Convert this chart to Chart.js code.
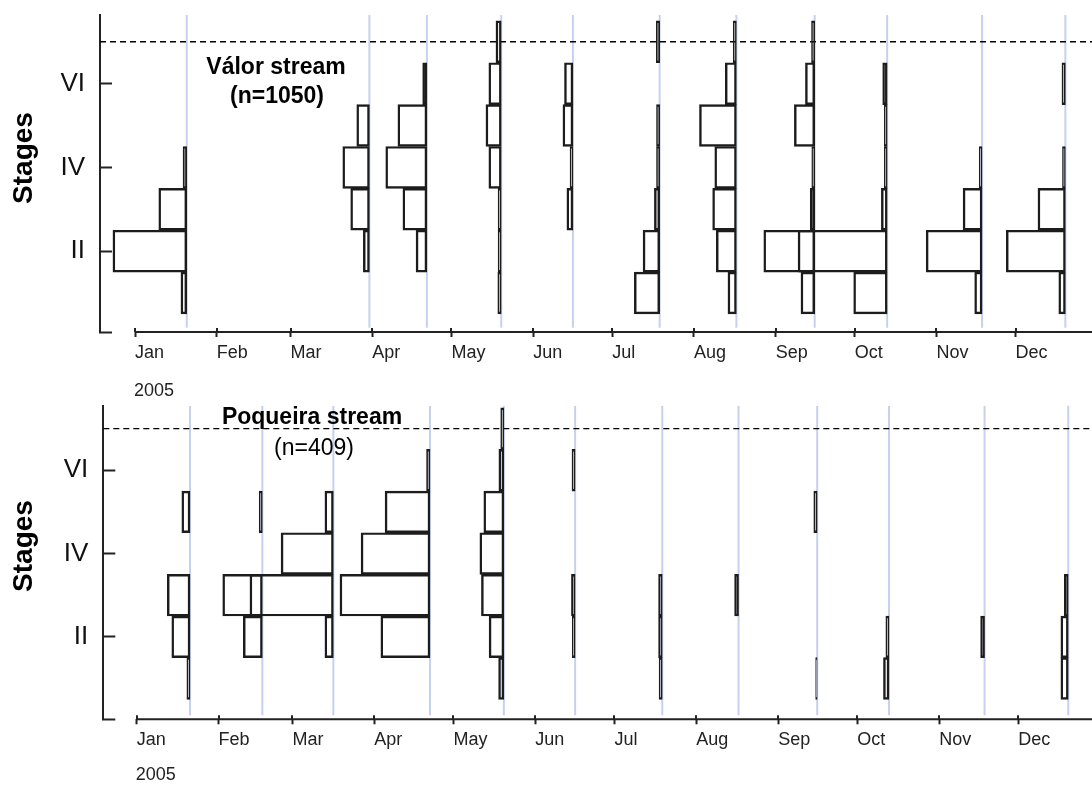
<!DOCTYPE html>
<html>
<head>
<meta charset="utf-8">
<script src="https://cdn.jsdelivr.net/npm/chart.js@4.4.1/dist/chart.umd.min.js"></script>
<style>
  html, body { margin: 0; padding: 0; background: #fff; overflow: hidden; }
  .panel { position: absolute; left: 0; width: 1092px; }
  #top-panel { top: 0; height: 400px; }
  #bottom-panel { top: 400px; height: 385px; }
</style>
</head>
<body>
<div class="panel" id="top-panel"><canvas id="valor-chart"></canvas></div>
<div class="panel" id="bottom-panel"><canvas id="poqueira-chart"></canvas></div>
<script>
// x axis: day of year 2005 (0 = Jan 1)
const months = ['Jan', 'Feb', 'Mar', 'Apr', 'May', 'Jun', 'Jul', 'Aug', 'Sep', 'Oct', 'Nov', 'Dec'];
const monthStarts = [0, 31, 59, 90, 120, 151, 181, 212, 243, 273, 304, 334];
const stageNames = ['I', 'II', 'III', 'IV', 'V', 'VI', 'VII'];
const stageTicks = [2, 4, 6];
const adultStage = 7;

// Valor: sampling days and bar length (days) for stages I..VII
const valorDates = [19.6, 88.9, 110.7, 138.9, 166.1, 199.0, 228.1, 257.8, 285.3, 321.3, 352.9];
const valorBars = [
    [2.2, 28.0, 10.6, 1.4, 0, 0, 0],
    [0, 2.3, 7.1, 10.1, 4.8, 0, 0],
    [0, 4.1, 9.1, 15.6, 11.0, 1.6, 0],
    [1.3, 1.2, 1.2, 4.7, 5.8, 4.7, 2.0],
    [0, 0, 2.3, 1.1, 3.8, 3.2, 0],
    [9.6, 6.3, 2.0, 1.2, 1.2, 0, 1.3],
    [3.2, 7.6, 9.0, 8.2, 14.0, 4.2, 1.2],
    [5.2, 19.3, 1.7, 1.1, 7.7, 3.5, 1.2],
    [12.7, 33.8, 2.2, 1.1, 1.1, 1.7, 0],
    [2.8, 21.2, 7.2, 1.1, 0, 0, 0],
    [2.5, 22.4, 10.4, 1.1, 0, 1.3, 0]
];

// Poqueira: sampling days and bar length (days) for stages I..VII
const poqueiraDates = [20.2, 47.6, 74.5, 111.1, 139.1, 166.1, 199.1, 228.0, 257.8, 285.0, 321.2, 352.9];
const poqueiraBars = [
    [1.2, 6.9, 8.6, 0, 3.1, 0, 0],
    [0, 7.2, 15.0, 0, 1.2, 0, 0],
    [0, 3.2, 31.6, 19.8, 3.2, 0, 0],
    [0, 18.6, 34.1, 26.1, 17.0, 1.3, 0],
    [2.0, 5.6, 8.5, 9.1, 7.6, 1.9, 1.2],
    [0, 1.1, 1.4, 0, 0, 1.2, 0],
    [1.2, 1.4, 1.4, 0, 0, 0, 0],
    [0, 0, 1.5, 0, 0, 0, 0],
    [0.6, 0, 0, 0, 1.3, 0, 0],
    [2.1, 1.2, 0, 0, 0, 0, 0],
    [0, 1.5, 0, 0, 0, 0, 0],
    [2.8, 2.8, 1.5, 0, 0, 0, 0]
];

Chart.defaults.font.family = "'Liberation Sans', Arial, sans-serif";
Chart.defaults.color = '#222';

const panelDecor = {
    id: 'panelDecor',
    afterDraw(chart, args, opts) {
        const {ctx, chartArea, scales: {x}} = chart;
        const bottom = chartArea.bottom;
        ctx.save();
        // x axis line starts at Jan 1, not at the y axis
        ctx.strokeStyle = '#222';
        ctx.lineWidth = 2;
        ctx.beginPath();
        ctx.moveTo(x.getPixelForValue(monthStarts[0]), bottom);
        ctx.lineTo(chartArea.right, bottom);
        x.ticks.forEach(t => {
            const px = Math.round(x.getPixelForValue(t.value));
            ctx.moveTo(px, bottom - 4);
            ctx.lineTo(px, bottom);
        });
        ctx.stroke();

        ctx.fillStyle = '#222';
        ctx.font = "18px 'Liberation Sans', Arial";
        ctx.textAlign = 'left';
        ctx.textBaseline = 'middle';
        ctx.fillText('2005', x.getPixelForValue(monthStarts[0]) - 1, bottom + opts.yearOffset);

        ctx.fillStyle = '#000';
        ctx.textAlign = 'center';
        ctx.font = "bold 23px 'Liberation Sans', Arial";
        ctx.fillText(opts.title, opts.titleX, opts.titleY);
        ctx.font = opts.countFont;
        ctx.fillText(opts.count, opts.countX, opts.countY);

        ctx.translate(24, opts.stagesY);
        ctx.rotate(-Math.PI / 2);
        ctx.font = "bold 28px 'Liberation Sans', Arial";
        ctx.fillText('Stages', 0, 0);
        ctx.restore();
    }
};

function buildPanel(canvasId, dates, bars, p) {
    const barSets = dates.map((d, i) => ({
        type: 'bar',
        indexAxis: 'y',
        data: bars[i].map((len, s) => len > 0 ? {y: s + 1, x: [d - len, d]} : null).filter(Boolean),
        backgroundColor: 'rgba(0,0,0,0)',
        borderColor: '#1c1c1c',
        borderWidth: 1.8,
        borderSkipped: false,
        grouped: false,
        barPercentage: 1,
        categoryPercentage: 1,
        order: 1
    }));
    const dateLines = dates.map(d => ({
        type: 'line',
        data: [{x: d, y: p.yMin + 0.1}, {x: d, y: p.yMax}],
        borderColor: '#c5d1ee',
        borderWidth: 2,
        pointRadius: 0,
        order: 3
    }));
    const adultLine = {
        type: 'line',
        data: [{x: p.xMin, y: adultStage}, {x: p.xMax, y: adultStage}],
        borderColor: '#000',
        borderWidth: 1.4,
        borderDash: [6, 4],
        pointRadius: 0,
        order: 2
    };

    return new Chart(document.getElementById(canvasId), {
        type: 'bar',
        data: {datasets: [...dateLines, adultLine, ...barSets]},
        options: {
            indexAxis: 'y',
            responsive: true,
            maintainAspectRatio: false,
            animation: false,
            layout: {padding: {top: p.padTop, left: 0, right: 0, bottom: 0}, autoPadding: false},
            plugins: {
                legend: {display: false},
                tooltip: {enabled: false},
                panelDecor: p.decor
            },
            scales: {
                x: {
                    type: 'linear',
                    min: p.xMin,
                    max: p.xMax,
                    offset: false,
                    afterBuildTicks: s => { s.ticks = monthStarts.map(v => ({value: v})); },
                    ticks: {
                        callback: (v, i) => months[i],
                        align: 'start',
                        autoSkip: false,
                        maxRotation: 0,
                        padding: 5,
                        color: '#222',
                        font: {size: 18}
                    },
                    grid: {drawOnChartArea: false, tickLength: 5, tickWidth: 2, tickColor: '#222'},
                    border: {display: false},
                    afterFit: s => { s.height = p.xAxisHeight; s.paddingLeft = 0; s.paddingRight = 0; }
                },
                y: {
                    type: 'linear',
                    min: p.yMin,
                    max: p.yMax,
                    offset: false,
                    afterBuildTicks: s => { s.ticks = [p.yMin, ...stageTicks].map(v => ({value: v})); },
                    ticks: {
                        callback: v => stageTicks.includes(v) ? stageNames[v - 1] : '',
                        padding: 27,
                        color: '#111',
                        font: {size: 26}
                    },
                    grid: {drawOnChartArea: false, offset: false, tickLength: -12, tickWidth: 2, tickColor: '#222'},
                    border: {display: true, width: 2, color: '#222'},
                    afterFit: s => { s.width = p.yAxisWidth; s.paddingTop = 0; s.paddingBottom = 0; }
                }
            }
        },
        plugins: [panelDecor]
    });
}

buildPanel('valor-chart', valorDates, valorBars, {
    xMin: -13.3, xMax: 363.0, yMin: 0.07, yMax: 7.64,
    padTop: 15, xAxisHeight: 68, yAxisWidth: 100,
    decor: {
        title: 'Válor stream', titleX: 276, titleY: 68,
        count: '(n=1050)', countX: 277, countY: 97, countFont: "bold 23px 'Liberation Sans', Arial",
        stagesY: 158, yearOffset: 59
    }
});

buildPanel('poqueira-chart', poqueiraDates, poqueiraBars, {
    xMin: -12.65, xMax: 361.9, yMin: 0.02, yMax: 7.55,
    padTop: 5.7, xAxisHeight: 65.7, yAxisWidth: 103.3,
    decor: {
        title: 'Poqueira stream', titleX: 312, titleY: 18,
        count: '(n=409)', countX: 314, countY: 49, countFont: "23px 'Liberation Sans', Arial",
        stagesY: 146, yearOffset: 56
    }
});
</script>
</body>
</html>
